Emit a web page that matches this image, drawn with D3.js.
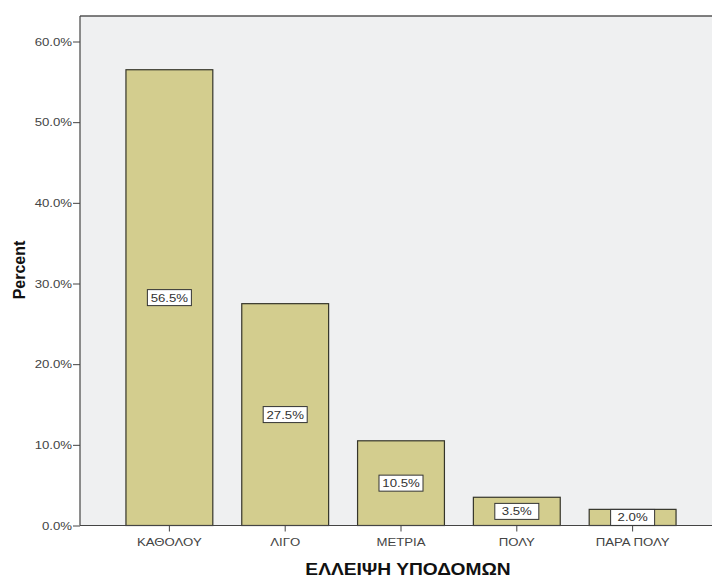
<!DOCTYPE html>
<html><head><meta charset="utf-8">
<script src="https://cdn.jsdelivr.net/npm/d3@7"></script>
<style>body{margin:0;background:#fff;} svg{display:block;}</style>
</head><body>
<script>
const categories = ["ΚΑΘΟΛΟΥ","ΛΙΓΟ","ΜΕΤΡΙΑ","ΠΟΛΥ","ΠΑΡΑ ΠΟΛΥ"];
const percents = [56.5, 27.5, 10.5, 3.5, 2.0];
const yTicks = [0,10,20,30,40,50,60];
const xTitle = "ΕΛΛΕΙΨΗ ΥΠΟΔΟΜΩΝ";
const yTitle = "Percent";

const W = 712, H = 579;
const pL = 80, pT = 16, pR = 712, pB = 525.5;
const FONT = "Arial, 'Liberation Sans', sans-serif";
const SX = 1.2;
const svg = d3.select("body").append("svg").attr("width", W).attr("height", H);

const y = d3.scaleLinear().domain([0, 60]).range([pB, 41.5]);
const x = d3.scaleBand().domain(categories).range([97, 705]).paddingInner(0.25).paddingOuter(0.25);

svg.append("rect").attr("x", pL).attr("y", pT).attr("width", pR - pL).attr("height", pB - pT).attr("fill", "#eff0f1");
svg.append("line").attr("x1", pL).attr("x2", pR).attr("y1", pT).attr("y2", pT).attr("stroke", "#555").attr("stroke-width", 1.5);

svg.selectAll("rect.bar").data(percents).join("rect").attr("class","bar")
  .attr("x", (d,i) => x(categories[i])).attr("width", x.bandwidth())
  .attr("y", d => y(d)).attr("height", d => pB - y(d))
  .attr("fill", "#d3cd8e").attr("stroke", "#35352a").attr("stroke-width", 1.2);

const yAxis = svg.append("g").attr("transform", `translate(${pL},0)`)
  .call(d3.axisLeft(y).tickValues(yTicks).tickFormat(d => d.toFixed(1) + "%").tickSize(7).tickSizeOuter(0));
yAxis.select(".domain").attr("stroke", "#444").attr("stroke-width", 1.2).attr("d", `M0,${pT}V${pB}`);
yAxis.selectAll(".tick line").attr("stroke", "#444");
yAxis.selectAll("text").attr("font-family", FONT).attr("font-size", 11).attr("fill", "#444")
  .attr("x", 0).attr("transform", `translate(-8,0) scale(${SX},1)`);

const xAxis = svg.append("g").attr("transform", `translate(0,${pB})`)
  .call(d3.axisBottom(x).tickSize(6).tickSizeOuter(0));
xAxis.select(".domain").attr("stroke", "#444").attr("stroke-width", 1.2).attr("d", `M${pL},0H${pR}`);
xAxis.selectAll(".tick line").attr("stroke", "#444");
xAxis.selectAll("text").attr("font-family", FONT).attr("font-size", 11).attr("fill", "#444")
  .attr("y", 0).attr("dy", 0).attr("transform", `translate(0,20) scale(${SX},1)`);

const lab = svg.selectAll("g.lab").data(percents).join("g").attr("class","lab")
  .attr("transform", (d,i) => `translate(${x(categories[i]) + x.bandwidth()/2},${y(d/2)})`);
lab.append("rect").attr("x", -22).attr("y", -8).attr("width", 44).attr("height", 16)
  .attr("fill", "#fff").attr("stroke", "#333").attr("stroke-width", 1);
lab.append("text").attr("text-anchor", "middle").attr("y", 4)
  .attr("transform", `scale(${SX},1)`)
  .attr("font-family", FONT).attr("font-size", 11).attr("fill", "#333")
  .text(d => d.toFixed(1) + "%");

svg.append("text").attr("transform", "translate(25,270) rotate(-90)").attr("text-anchor", "middle")
  .attr("font-family", FONT).attr("font-weight", "bold").attr("font-size", 16).attr("fill", "#111").text(yTitle);
svg.append("text").attr("transform", `translate(408,575) scale(${SX},1)`).attr("text-anchor", "middle")
  .attr("font-family", FONT).attr("font-weight", "bold").attr("font-size", 16).attr("fill", "#111").text(xTitle);
</script>
</body></html>
